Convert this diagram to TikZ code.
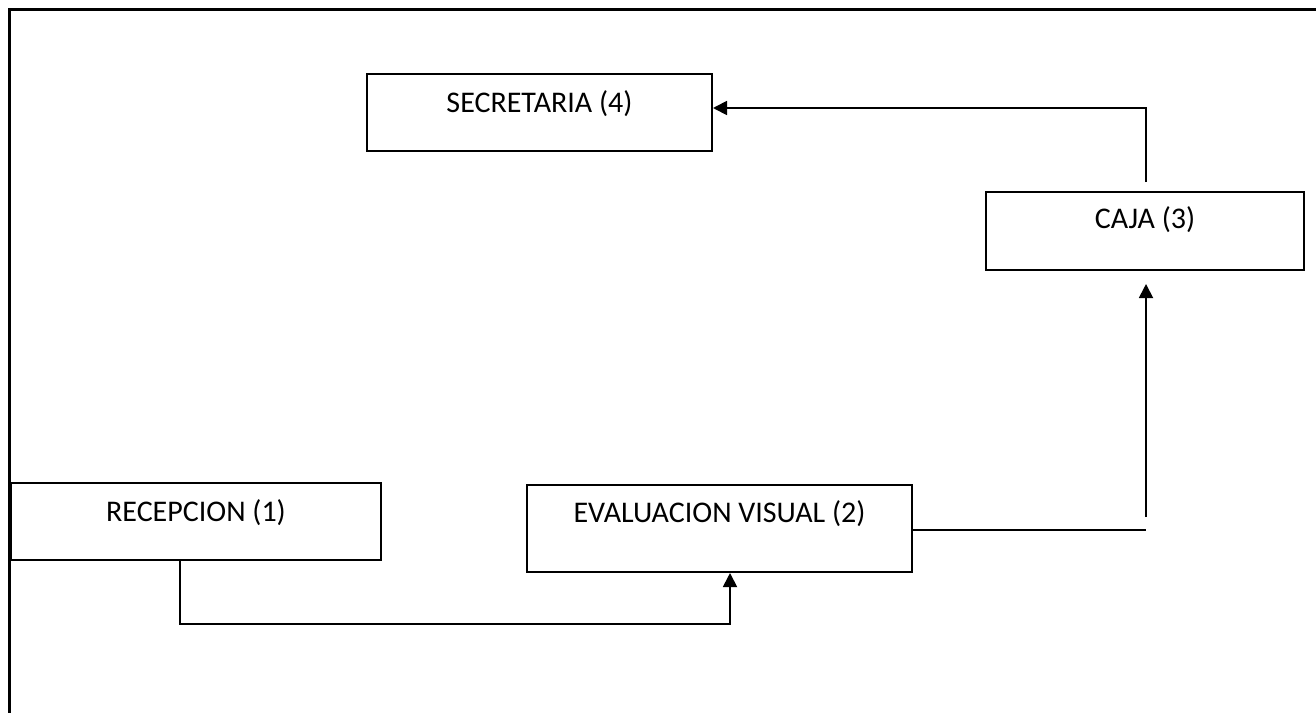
\documentclass[tikz,border=0pt]{standalone}
\usepackage{fontspec}
\setmainfont{Carlito}
\usetikzlibrary{arrows.meta}
\begin{document}
\begin{tikzpicture}[x=1pt,y=-1pt,
  box/.style={draw, line width=2pt, rectangle, inner sep=0pt, text height=20pt, text depth=20pt,
    font=\fontsize{30}{36}\selectfont},
  link/.style={line width=1.8pt},
  conn/.style={link, -{Triangle[length=14pt,width=14pt]}}]
\useasboundingbox (0,0) rectangle (1316,713);
\draw[line width=3pt] (1316,9) -- (9,9) -- (9,713);
\node[box, minimum width=345pt, minimum height=77pt] (sec) at (539.5,112.5) {SECRETARIA (4)};
\node[box, minimum width=318pt, minimum height=78pt, text depth=25pt] (caja) at (1145,231) {CAJA (3)};
\node[box, minimum width=370pt, minimum height=77pt] (rec) at (196,521.5) {RECEPCION (1)};
\node[box, minimum width=385pt, minimum height=87pt, text depth=32pt] (eval) at (719.5,528.5) {EVALUACION VISUAL (2)};
\coordinate (p1) at (180,624);
\coordinate (p2) at (730,624);
\coordinate (q1) at (1146,530);
\coordinate (q2) at (1146,517);
\coordinate (r) at (1146,108);
\draw[conn] (rec.south -| p1) |- (p2) -- (eval.south -| p2);
\draw[link] (eval.east |- q1) -- (q1);
\draw[conn, shorten >=13pt] (q2) -- (caja.south -| q2);
\draw[conn, shorten <=9pt] (caja.north -| r) -- (r) -- (sec.east |- r);
\end{tikzpicture}
\end{document}
